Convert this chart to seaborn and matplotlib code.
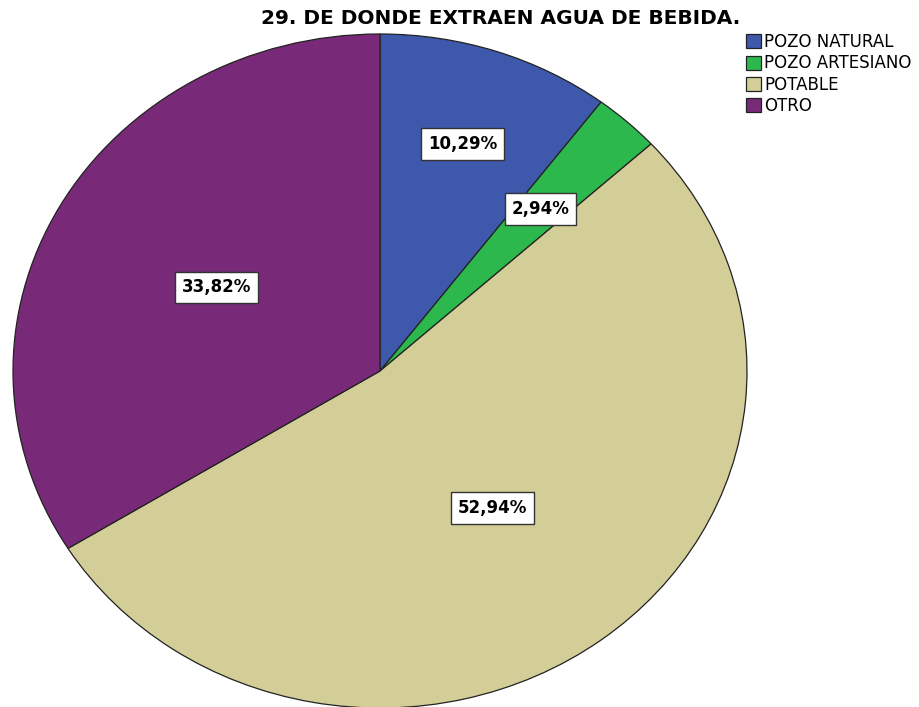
import numpy as np
import matplotlib
matplotlib.use('Agg')
import matplotlib.pyplot as plt
import seaborn as sns

# Data
categories = ['POZO NATURAL', 'POZO ARTESIANO', 'POTABLE', 'OTRO']
percentages = [10.29, 2.94, 52.94, 33.82]
colors = ['#3e58ac', '#2db84d', '#d3ce97', '#782a78']
label_dist = [0.71, 0.65, 0.51, 0.51]

sns.set_style('white')
plt.rcParams['font.family'] = ['DejaVu Sans']
plt.rcParams['text.color'] = 'black'

fig = plt.figure(figsize=(9.2, 7.07), dpi=100)
# elliptical pie: axes without equal aspect
ax = fig.add_axes([13 / 920, -1 / 707, 734 / 920, 674 / 707])

wedges, _ = ax.pie(percentages, colors=colors, startangle=90, counterclock=False,
                   wedgeprops=dict(edgecolor='#222222', linewidth=0.9))
ax.set_aspect('auto')
ax.set_xlim(-1.0, 1.0)
ax.set_ylim(-1.0, 1.0)
ax.axis('off')

# percentage labels in white boxes
for w, p, d in zip(wedges, percentages, label_dist):
    ang = np.deg2rad((w.theta1 + w.theta2) / 2)
    ax.text(d * np.cos(ang), d * np.sin(ang), f'{p:.2f}%'.replace('.', ','),
            ha='center', va='center', fontsize=12, fontweight='bold', color='black',
            bbox=dict(boxstyle='square,pad=0.4', facecolor='white',
                      edgecolor='#333333', linewidth=1))

fig.text(501 / 920, 1 - 18 / 707, '29. DE DONDE EXTRAEN AGUA DE BEBIDA.',
         ha='center', va='center', fontsize=14.5, fontweight='heavy', color='black')

fig.legend(wedges, categories, loc='upper left', bbox_to_anchor=(746 / 920, 1 - 33 / 707),
           frameon=False, fontsize=12, handlelength=0.9, handleheight=0.9,
           handletextpad=0.2, labelspacing=0.2, borderpad=0, borderaxespad=0,
           labelcolor='black')

fig.savefig('out.png', dpi=100)
